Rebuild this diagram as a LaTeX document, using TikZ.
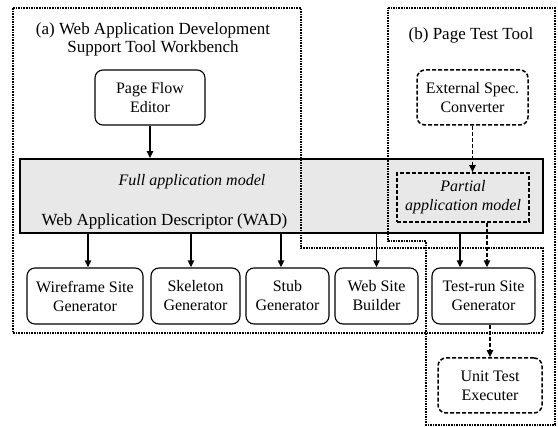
\documentclass[tikz,border=0pt]{standalone}
\usepackage{fontspec}
\setmainfont{Liberation Serif}
\usetikzlibrary{arrows.meta, positioning}
\definecolor{wadgray}{HTML}{E8E8E8}

\begin{document}
\begin{tikzpicture}[
    x=1pt, y=-1pt,
    font=\fontsize{16}{19}\selectfont,
    tool/.style={
        rectangle, rounded corners=8pt,
        draw=black, line width=1.1pt, fill=white,
        minimum height=55pt, inner sep=2pt, align=center
    },
    extool/.style={tool, dash pattern=on 4pt off 2pt, line width=1.5pt},
    arrow/.style={-{Triangle[length=7pt,width=6pt]}, line width=1.7pt},
    dasharrow/.style={arrow, dash pattern=on 4pt off 2pt},
    region/.style={dash pattern=on 1.6pt off 1pt, line width=2.6pt},
    title/.style={align=center, inner sep=0pt, font=\fontsize{17}{18}\selectfont}
]
\useasboundingbox (0,0) rectangle (558,427);

% Descriptor
\node[draw=black, line width=1.6pt, fill=wadgray, minimum width=523pt, minimum height=74pt] (wad) at (281.5,196) {};
\node[title, font=\fontsize{16}{18}\selectfont\itshape] (fullmodel) at (192,182) {Full application model};
\node[title] (wadlabel) at (164.5,221) {Web Application Descriptor (WAD)};
\node[tool, extool, rounded corners=0pt, fill=wadgray, minimum width=132pt, minimum height=49pt, font=\fontsize{16}{19}\selectfont\itshape] (partial) at (463,197.5) {Partial\\application model};

% Nodes
\node[tool, minimum width=110pt] (pfe) at (150,97.5) {Page Flow\\Editor};
\node[tool, extool, minimum width=111pt] (esc) at (472.5,97.5) {External Spec.\\Converter};

\node[tool, minimum width=116pt, minimum height=56pt] (wireframe) at (85,296) {Wireframe Site\\Generator};
\node[tool, minimum width=89pt, minimum height=56pt] (skeleton) at (195.5,296) {Skeleton\\Generator};
\node[tool, minimum width=83pt, minimum height=56pt] (stub) at (287.5,296) {Stub\\Generator};
\node[tool, minimum width=83pt, minimum height=56pt] (builder) at (376.5,296) {Web Site\\Builder};
\node[tool, minimum width=103pt, minimum height=56pt] (testrun) at (483.5,296) {Test-run Site\\Generator};
\node[tool, extool, minimum width=104pt] (unittest) at (490,385.5) {Unit Test\\Executer};

% Titles
\node[title] (atitle) at (153,39) {(a) Web Application Development\\Support Tool Workbench};
\node[title] (btitle) at (471,35) {(b) Page Test Tool};

% Regions
\draw[region] (13,8) -- (301,8) -- (301,248) -- (543,248) -- (543,333) -- (13,333) -- cycle;
\draw[region] (388,8) -- (555,8) -- (555,425) -- (426,425) -- (426,241) -- (388,241) -- cycle;

% Arrows
\draw[arrow] (pfe) -- (pfe |- wad.north);
\draw[dasharrow] (esc) -- (esc |- partial.north);
\draw[arrow] ([xshift=3pt]wireframe.north |- wad.south) -- ([xshift=3pt]wireframe.north);
\draw[arrow] ([xshift=-4.5pt]skeleton.north |- wad.south) -- ([xshift=-4.5pt]skeleton.north);
\draw[arrow] ([xshift=-6.5pt]stub.north |- wad.south) -- ([xshift=-6.5pt]stub.north);
\draw[arrow] (builder.north |- wad.south) -- (builder);
\draw[arrow] ([xshift=-23.5pt]testrun.north |- wad.south) -- ([xshift=-23.5pt]testrun.north);
\draw[dasharrow] ([xshift=24pt]partial.south) -- ([xshift=24pt]partial.south |- testrun.north);
\draw[dasharrow] (unittest.north |- testrun.south) -- (unittest);

\end{tikzpicture}
\end{document}
